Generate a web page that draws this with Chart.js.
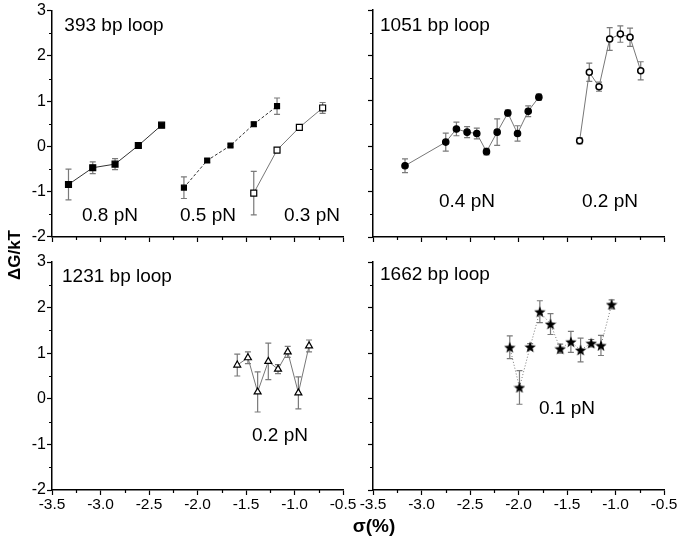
<!DOCTYPE html>
<html lang="en">
<head>
  <meta charset="UTF-8" />
  <title>Loop free energy vs supercoiling</title>
  <style>
    body { margin: 0; background: #fff; }
    .fig { position: relative; width: 680px; height: 543px; font-family: "Liberation Sans", Arial, sans-serif; color: #000; }
    .fig canvas { position: absolute; left: 0; top: 0; }
    .lbl { position: absolute; transform: translate(-50%, -50%); white-space: nowrap; font-size: 19px; line-height: 1; }
    .ytitle { position: absolute; left: 15px; top: 255px; transform: translate(-50%, -50%) rotate(-90deg); font-size: 17px; font-weight: bold; white-space: nowrap; }
    .xtitle { position: absolute; left: 374px; top: 526px; transform: translate(-50%, -50%); font-size: 19px; font-weight: bold; white-space: nowrap; }
  </style>
</head>
<body>
  <div class="fig">
    <canvas id="p1" width="680" height="543"></canvas>
    <canvas id="p2" width="680" height="543"></canvas>
    <canvas id="p3" width="680" height="543"></canvas>
    <canvas id="p4" width="680" height="543"></canvas>

    <div class="lbl" style="left:114px;top:24px">393 bp loop</div>
    <div class="lbl" style="left:110px;top:214px">0.8 pN</div>
    <div class="lbl" style="left:208px;top:214px">0.5 pN</div>
    <div class="lbl" style="left:312px;top:214px">0.3 pN</div>

    <div class="lbl" style="left:435px;top:24px">1051 bp loop</div>
    <div class="lbl" style="left:467px;top:200px">0.4 pN</div>
    <div class="lbl" style="left:610px;top:200px">0.2 pN</div>

    <div class="lbl" style="left:117px;top:275px">1231 bp loop</div>
    <div class="lbl" style="left:280px;top:434px">0.2 pN</div>

    <div class="lbl" style="left:435px;top:273px">1662 bp loop</div>
    <div class="lbl" style="left:567px;top:407px">0.1 pN</div>

    <div class="ytitle">ΔG/kT</div>
    <div class="xtitle">σ(%)</div>
  </div>

  <script src="https://cdn.jsdelivr.net/npm/chart.js"></script>
  <script>
    // axis ticks
    const xTicks = [-3.5, -3.0, -2.5, -2.0, -1.5, -1.0, -0.5];
    const xMinor = [-3.25, -2.75, -2.25, -1.75, -1.25, -0.75];
    const yTicks = [-2, -1, 0, 1, 2, 3];
    const yMinor = [-1.5, -0.5, 0.5, 1.5, 2.5];

    // 393 bp loop
    const sig08 = [-3.33, -3.08, -2.85, -2.61, -2.37];
    const dg08  = [-0.84, -0.47, -0.39, 0.02, 0.47];
    const err08 = [0.34, 0.13, 0.12, 0.03, 0.03];
    const sig05 = [-2.14, -1.90, -1.66, -1.42, -1.18];
    const dg05  = [-0.91, -0.31, 0.02, 0.49, 0.89];
    const err05 = [0.24, 0.04, 0.03, 0.05, 0.18];
    const sig03 = [-1.42, -1.18, -0.95, -0.71];
    const dg03  = [-1.03, -0.08, 0.42, 0.85];
    const err03 = [0.48, 0.03, 0.03, 0.12];

    // 1051 bp loop
    const sig04 = [-3.17, -2.75, -2.64, -2.53, -2.43, -2.33, -2.22, -2.11, -2.01, -1.90, -1.79];
    const dg04  = [-0.43, 0.09, 0.38, 0.31, 0.28, -0.12, 0.31, 0.73, 0.28, 0.77, 1.08];
    const err04 = [0.15, 0.20, 0.15, 0.12, 0.12, 0.07, 0.29, 0.07, 0.17, 0.12, 0.07];
    const sig02a = [-1.37, -1.27, -1.17, -1.06, -0.95, -0.85, -0.74];
    const dg02a  = [0.12, 1.63, 1.31, 2.36, 2.47, 2.40, 1.66];
    const err02a = [0.07, 0.20, 0.10, 0.25, 0.18, 0.20, 0.20];

    // 1231 bp loop
    const sig02b = [-1.59, -1.48, -1.38, -1.27, -1.17, -1.07, -0.96, -0.85];
    const dg02b  = [0.74, 0.90, 0.15, 0.82, 0.65, 1.03, 0.13, 1.16];
    const err02b = [0.24, 0.13, 0.44, 0.40, 0.10, 0.12, 0.35, 0.13];

    // 1662 bp loop
    const sig01 = [-2.09, -1.99, -1.88, -1.78, -1.67, -1.57, -1.46, -1.36, -1.25, -1.15, -1.04];
    const dg01  = [1.13, 0.25, 1.14, 1.91, 1.64, 1.10, 1.25, 1.07, 1.22, 1.17, 2.07];
    const err01 = [0.25, 0.37, 0.07, 0.24, 0.23, 0.10, 0.23, 0.26, 0.08, 0.22, 0.10];

    const FONT = '"Liberation Sans", Arial, sans-serif';

    // filled five point star for the 0.1 pN points
    function makeStar(size) {
      const c = document.createElement('canvas');
      c.width = size; c.height = size;
      const g = c.getContext('2d');
      const cx = size / 2, cy = size / 2 + 0.6, R = size / 2, r = R * 0.42;
      g.beginPath();
      for (let i = 0; i < 10; i++) {
        const a = -Math.PI / 2 + i * Math.PI / 5;
        const rr = i % 2 ? r : R;
        g.lineTo(cx + rr * Math.cos(a), cy + rr * Math.sin(a));
      }
      g.closePath();
      g.fillStyle = '#000';
      g.fill();
      return c;
    }
    const starImg = makeStar(12);

    // error bars, drawn under the markers
    const errorBars = {
      id: 'errorBars',
      beforeDatasetsDraw(chart) {
        const ctx = chart.ctx;
        const xs = chart.scales.x, ys = chart.scales.y;
        ctx.save();
        ctx.strokeStyle = '#7a7a7a';
        ctx.lineWidth = 1.2;
        chart.data.datasets.forEach(ds => {
          ds.data.forEach((p, i) => {
            const e = ds.errors[i];
            const px = xs.getPixelForValue(p.x);
            const top = ys.getPixelForValue(p.y + e);
            const bot = ys.getPixelForValue(p.y - e);
            ctx.beginPath();
            ctx.moveTo(px, top); ctx.lineTo(px, bot);
            ctx.moveTo(px - 3, top); ctx.lineTo(px + 3, top);
            ctx.moveTo(px - 3, bot); ctx.lineTo(px + 3, bot);
            ctx.stroke();
          });
        });
        ctx.restore();
      }
    };

    // short minor ticks outside the axes
    const minorTicks = {
      id: 'minorTicks',
      afterDraw(chart) {
        const ctx = chart.ctx;
        const a = chart.chartArea;
        const xs = chart.scales.x, ys = chart.scales.y;
        ctx.save();
        ctx.strokeStyle = '#000';
        ctx.lineWidth = 1.2;
        ctx.beginPath();
        xMinor.forEach(v => {
          const px = Math.round(xs.getPixelForValue(v)) + 0.5;
          ctx.moveTo(px, a.bottom); ctx.lineTo(px, a.bottom + 3);
        });
        yMinor.forEach(v => {
          const py = Math.round(ys.getPixelForValue(v)) + 0.5;
          ctx.moveTo(a.left, py); ctx.lineTo(a.left - 3, py);
        });
        ctx.stroke();
        ctx.restore();
      }
    };

    function series(x, y, err, opts) {
      return Object.assign({
        data: x.map((v, i) => ({ x: v, y: y[i] })),
        errors: err,
        showLine: true,
        borderColor: '#777',
        borderWidth: 1,
        pointBorderColor: '#000',
        pointBorderWidth: 1.2,
        pointBackgroundColor: '#000',
        pointRadius: 3,
        pointHoverRadius: 3
      }, opts);
    }

    function panel(id, area, showX, showY, datasets) {
      const yw = showY ? 52 : 8;
      const xh = showX ? 30 : 8;
      return new Chart(document.getElementById(id), {
        type: 'scatter',
        data: { datasets: datasets },
        options: {
          responsive: false,
          animation: false,
          events: [],
          layout: {
            padding: {
              left: area.left - yw,
              top: area.top,
              right: 680 - area.right,
              bottom: 543 - area.bottom - xh
            }
          },
          plugins: { legend: { display: false }, tooltip: { enabled: false } },
          scales: {
            x: {
              type: 'linear',
              min: -3.5, max: -0.5,
              afterBuildTicks: s => { s.ticks = xTicks.map(v => ({ value: v })); },
              afterFit: s => { s.height = xh; },
              ticks: {
                display: showX, autoSkip: false, maxRotation: 0, padding: 0,
                color: '#000', font: { family: FONT, size: 15.5 },
                callback: v => v.toFixed(1)
              },
              grid: { drawOnChartArea: false, tickLength: 5, tickWidth: 1.2, tickColor: '#000' },
              border: { color: '#000', width: 1.5 }
            },
            y: {
              type: 'linear',
              min: -2, max: 3,
              afterBuildTicks: s => { s.ticks = yTicks.map(v => ({ value: v })); },
              afterFit: s => { s.width = yw; },
              ticks: {
                display: showY, autoSkip: false, padding: 1,
                color: '#000', font: { family: FONT, size: 16 },
                callback: v => String(v)
              },
              grid: { drawOnChartArea: false, tickLength: 5, tickWidth: 1.2, tickColor: '#000' },
              border: { color: '#000', width: 1.5 }
            }
          }
        },
        plugins: [errorBars, minorTicks]
      });
    }

    panel('p1', { left: 52, top: 10, right: 343, bottom: 237 }, false, true, [
      series(sig08, dg08, err08, { borderColor: '#333', pointStyle: 'rect', pointRadius: 4.2 }),
      series(sig05, dg05, err05, { borderColor: '#333', borderDash: [3, 2], pointStyle: 'rect', pointRadius: 3.5 }),
      series(sig03, dg03, err03, { borderColor: '#777', pointStyle: 'rect', pointRadius: 4.2, pointBackgroundColor: '#fff' })
    ]);

    panel('p2', { left: 373, top: 10, right: 664, bottom: 237 }, false, false, [
      series(sig04, dg04, err04, { pointStyle: 'circle', pointRadius: 3.2 }),
      series(sig02a, dg02a, err02a, { pointStyle: 'circle', pointRadius: 3, pointBackgroundColor: '#fff', pointBorderWidth: 1.5 })
    ]);

    panel('p3', { left: 52, top: 262, right: 343, bottom: 490 }, true, true, [
      series(sig02b, dg02b, err02b, { pointStyle: 'triangle', pointRadius: 4, pointBackgroundColor: '#fff' })
    ]);

    panel('p4', { left: 373, top: 262, right: 664, bottom: 490 }, true, false, [
      series(sig01, dg01, err01, { borderDash: [1, 2], pointStyle: starImg })
    ]);
  </script>
</body>
</html>
